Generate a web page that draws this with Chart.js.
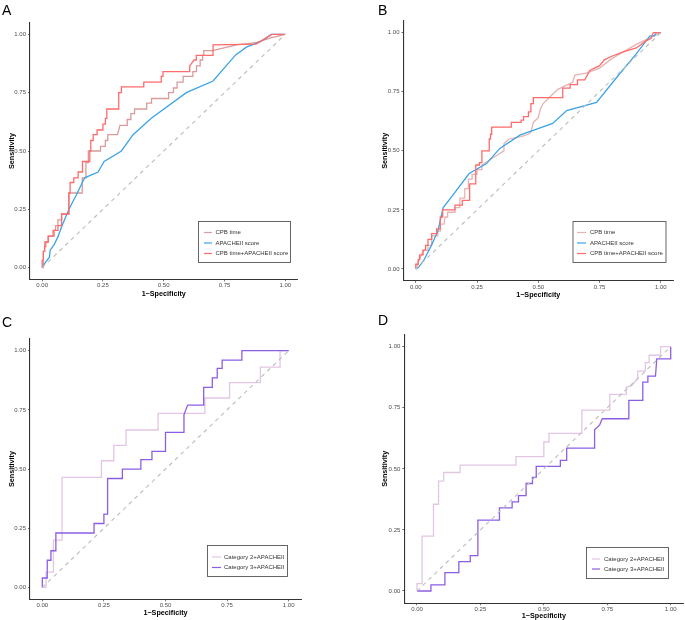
<!DOCTYPE html>
<html>
<head>
<meta charset="utf-8">
<script src="https://cdn.jsdelivr.net/npm/chart.js@4.4.1/dist/chart.umd.min.js"></script>
<style>
  body { margin: 0; background: #fff; }
  #wrap { position: relative; width: 685px; height: 620px; }
  canvas { position: absolute; }
</style>
</head>
<body>
<div id="wrap">
  <canvas id="cA" width="340" height="310" style="left:0;top:0"></canvas>
  <canvas id="cB" width="345" height="310" style="left:340px;top:0"></canvas>
  <canvas id="cC" width="340" height="310" style="left:0;top:310px"></canvas>
  <canvas id="cD" width="345" height="310" style="left:340px;top:310px"></canvas>
</div>
<script>
// tick values shared by every panel
const tickVals = [0, 0.25, 0.5, 0.75, 1];

// ROC curves, points are [1-specificity, sensitivity]
const rocA_cpb = [[0,0],[0.005,0],[0.005,0.07],[0.01,0.07],[0.01,0.11],[0.025,0.11],[0.025,0.135],[0.05,0.135],[0.05,0.16],[0.055,0.16],[0.055,0.18],[0.065,0.18],[0.065,0.205],[0.08,0.205],[0.08,0.23],[0.11,0.23],[0.11,0.32],[0.165,0.32],[0.165,0.385],[0.18,0.385],[0.18,0.45],[0.19,0.45],[0.19,0.5],[0.24,0.5],[0.24,0.52],[0.26,0.52],[0.26,0.545],[0.27,0.545],[0.27,0.57],[0.31,0.57],[0.32,0.61],[0.35,0.61],[0.35,0.635],[0.365,0.635],[0.365,0.66],[0.38,0.66],[0.38,0.68],[0.43,0.68],[0.43,0.705],[0.45,0.705],[0.45,0.725],[0.52,0.725],[0.52,0.75],[0.54,0.75],[0.54,0.77],[0.555,0.77],[0.555,0.795],[0.58,0.795],[0.58,0.82],[0.62,0.82],[0.62,0.84],[0.635,0.84],[0.635,0.865],[0.65,0.865],[0.65,0.89],[0.66,0.89],[0.66,0.91],[0.665,0.91],[0.665,0.93],[0.70,0.93],[0.80,0.955],[0.88,0.965],[0.94,0.985],[1,1]];
const rocA_apache = [[0,0],[0.005,0.01],[0.015,0.025],[0.03,0.045],[0.033,0.075],[0.05,0.1],[0.066,0.135],[0.08,0.175],[0.11,0.25],[0.14,0.31],[0.175,0.385],[0.23,0.41],[0.255,0.455],[0.326,0.5],[0.374,0.57],[0.449,0.64],[0.593,0.75],[0.703,0.8],[0.796,0.912],[0.84,0.945],[0.9,0.97],[0.942,1],[1,1]];
const rocA_both = [[0,0],[0,0.03],[0.005,0.03],[0.005,0.07],[0.01,0.07],[0.01,0.09],[0.015,0.09],[0.015,0.11],[0.025,0.11],[0.025,0.135],[0.045,0.135],[0.045,0.16],[0.065,0.16],[0.065,0.18],[0.08,0.18],[0.08,0.23],[0.11,0.23],[0.11,0.32],[0.115,0.32],[0.115,0.365],[0.13,0.365],[0.13,0.385],[0.148,0.385],[0.148,0.41],[0.166,0.41],[0.166,0.455],[0.196,0.455],[0.196,0.5],[0.2,0.5],[0.2,0.545],[0.21,0.545],[0.21,0.57],[0.226,0.57],[0.226,0.59],[0.25,0.59],[0.25,0.615],[0.26,0.615],[0.26,0.64],[0.266,0.64],[0.266,0.68],[0.315,0.68],[0.315,0.75],[0.326,0.75],[0.326,0.775],[0.418,0.775],[0.418,0.795],[0.49,0.795],[0.49,0.82],[0.497,0.82],[0.497,0.84],[0.607,0.84],[0.607,0.865],[0.625,0.89],[0.634,0.89],[0.634,0.91],[0.703,0.91],[0.703,0.955],[0.88,0.958],[0.945,1],[1,1]];

const rocB_cpb = [[0,0],[0.005,0.01],[0.01,0.03],[0.02,0.05],[0.03,0.08],[0.05,0.08],[0.05,0.1],[0.065,0.1],[0.065,0.14],[0.09,0.14],[0.09,0.16],[0.1,0.16],[0.1,0.19],[0.115,0.19],[0.12,0.22],[0.13,0.22],[0.13,0.24],[0.16,0.24],[0.16,0.26],[0.18,0.26],[0.18,0.3],[0.2,0.3],[0.2,0.34],[0.215,0.34],[0.215,0.38],[0.23,0.38],[0.23,0.4],[0.25,0.4],[0.25,0.42],[0.27,0.42],[0.27,0.44],[0.3,0.46],[0.33,0.48],[0.36,0.5],[0.36,0.53],[0.38,0.55],[0.43,0.56],[0.46,0.57],[0.47,0.58],[0.48,0.62],[0.5,0.64],[0.51,0.68],[0.52,0.7],[0.54,0.72],[0.56,0.74],[0.58,0.76],[0.62,0.78],[0.64,0.79],[0.65,0.82],[0.7,0.83],[0.75,0.85],[0.8,0.89],[0.9,0.95],[0.96,0.98],[1,1]];
const rocB_apache = [[0,0],[0.01,0.005],[0.033,0.037],[0.064,0.1],[0.09,0.16],[0.112,0.26],[0.15,0.31],[0.218,0.404],[0.289,0.446],[0.343,0.51],[0.425,0.566],[0.559,0.616],[0.616,0.67],[0.738,0.705],[0.834,0.828],[0.9,0.91],[0.956,0.986],[0.975,0.986],[0.98,1],[1,1]];
const rocB_both = [[0,0],[0,0.02],[0.01,0.02],[0.01,0.04],[0.016,0.04],[0.016,0.06],[0.03,0.06],[0.03,0.08],[0.04,0.08],[0.04,0.1],[0.05,0.1],[0.05,0.125],[0.065,0.125],[0.065,0.15],[0.085,0.15],[0.085,0.17],[0.1,0.17],[0.1,0.22],[0.11,0.22],[0.11,0.25],[0.16,0.25],[0.16,0.27],[0.19,0.27],[0.19,0.29],[0.22,0.29],[0.22,0.36],[0.245,0.36],[0.245,0.44],[0.26,0.44],[0.26,0.45],[0.27,0.45],[0.27,0.5],[0.3,0.5],[0.3,0.55],[0.305,0.55],[0.305,0.57],[0.31,0.57],[0.31,0.6],[0.39,0.6],[0.39,0.62],[0.43,0.62],[0.43,0.63],[0.44,0.63],[0.44,0.645],[0.46,0.645],[0.46,0.665],[0.47,0.665],[0.47,0.7],[0.48,0.7],[0.48,0.725],[0.6,0.725],[0.6,0.765],[0.63,0.765],[0.63,0.78],[0.66,0.78],[0.66,0.8],[0.69,0.8],[0.71,0.84],[0.75,0.86],[0.77,0.885],[0.8,0.9],[0.85,0.92],[0.9,0.935],[0.94,0.965],[0.96,0.975],[0.97,1],[1,1]];

const rocC_cat2 = [[0,0],[0.015,0],[0.015,0.065],[0.045,0.065],[0.045,0.2],[0.08,0.2],[0.08,0.465],[0.24,0.465],[0.24,0.535],[0.29,0.535],[0.29,0.6],[0.34,0.6],[0.34,0.665],[0.47,0.665],[0.47,0.735],[0.66,0.735],[0.66,0.8],[0.76,0.8],[0.76,0.865],[0.885,0.865],[0.885,0.93],[0.965,0.93],[0.965,1],[1,1]];
const rocC_cat3 = [[0,0],[0,0.04],[0.02,0.04],[0.02,0.115],[0.035,0.115],[0.035,0.155],[0.055,0.155],[0.055,0.23],[0.21,0.23],[0.21,0.27],[0.25,0.27],[0.25,0.31],[0.265,0.31],[0.265,0.46],[0.325,0.46],[0.325,0.5],[0.4,0.5],[0.4,0.54],[0.445,0.54],[0.445,0.575],[0.5,0.575],[0.5,0.655],[0.575,0.655],[0.575,0.73],[0.59,0.77],[0.655,0.77],[0.655,0.845],[0.69,0.845],[0.69,0.885],[0.71,0.885],[0.71,0.925],[0.73,0.925],[0.73,0.96],[0.81,0.96],[0.81,1],[1,1]];

const rocD_cat2 = [[0,0],[0,0.03],[0.02,0.03],[0.02,0.225],[0.065,0.225],[0.065,0.355],[0.085,0.355],[0.085,0.45],[0.105,0.45],[0.105,0.485],[0.17,0.485],[0.17,0.515],[0.39,0.515],[0.39,0.55],[0.5,0.55],[0.5,0.61],[0.52,0.61],[0.52,0.645],[0.65,0.645],[0.65,0.74],[0.76,0.74],[0.76,0.805],[0.825,0.805],[0.825,0.835],[0.845,0.84],[0.87,0.87],[0.87,0.9],[0.9,0.9],[0.9,0.935],[0.915,0.935],[0.915,0.965],[0.96,0.965],[0.96,1],[1,1]];
const rocD_cat3 = [[0,0],[0.055,0],[0.055,0.025],[0.11,0.025],[0.11,0.075],[0.165,0.075],[0.165,0.12],[0.21,0.12],[0.21,0.145],[0.24,0.145],[0.24,0.29],[0.325,0.29],[0.325,0.34],[0.375,0.34],[0.375,0.365],[0.4,0.365],[0.4,0.39],[0.43,0.39],[0.43,0.44],[0.455,0.44],[0.455,0.465],[0.47,0.465],[0.47,0.51],[0.565,0.51],[0.565,0.535],[0.59,0.535],[0.59,0.585],[0.7,0.585],[0.7,0.66],[0.72,0.68],[0.73,0.705],[0.835,0.705],[0.835,0.78],[0.89,0.78],[0.89,0.855],[0.91,0.855],[0.91,0.88],[0.94,0.88],[0.945,0.95],[1,0.95],[1,1]];

const diag = [[0,0],[1,1]];

const labelsAB = ['CPB time', 'APACHEII score', 'CPB time+APACHEII score'];
const labelsCD = ['Category 2+APACHEII', 'Category 3+APACHEII'];

const FONT = '"Liberation Sans", Arial, Helvetica, sans-serif';
const TITLE_LH = 7.2 * 1.2;

function toXY(arr) {
  return arr.map(p => ({ x: p[0], y: p[1] }));
}

// draws the boxed legend inside the panel and the panel letter
const decoPlugin = {
  id: 'deco',
  afterDraw(chart, args, o) {
    const ctx = chart.ctx;
    ctx.save();
    ctx.font = '14px ' + FONT;
    ctx.fillStyle = '#000';
    ctx.textBaseline = 'alphabetic';
    ctx.fillText(o.letter, o.lx, o.ly);

    const L = o.legend;
    ctx.fillStyle = '#fff';
    ctx.fillRect(L.x, L.y, L.w, L.h);
    ctx.strokeStyle = '#555';
    ctx.lineWidth = 0.9;
    ctx.strokeRect(L.x + 0.5, L.y + 0.5, L.w, L.h);
    ctx.font = '6px ' + FONT;
    ctx.textBaseline = 'middle';
    o.items.forEach((it, i) => {
      const y = L.rows[i];
      ctx.strokeStyle = it.color;
      ctx.lineWidth = 1.2;
      ctx.beginPath();
      ctx.moveTo(L.x0, y);
      ctx.lineTo(L.x1, y);
      ctx.stroke();
      ctx.fillStyle = '#333';
      ctx.fillText(it.label, L.tx, y);
    });
    ctx.restore();
  }
};

function makePanel(id, g, series, labels, letter) {
  const padLeft = g.yTitleX - 12;
  const datasets = [{
    data: toXY(diag),
    borderColor: '#c0c0c0',
    borderWidth: 1.2,
    borderDash: [4, 4],
    order: 0
  }];
  series.forEach((s, i) => {
    datasets.push({
      label: labels[i],
      data: toXY(s.data),
      borderColor: s.color,
      borderWidth: 1.3,
      order: series.length - i
    });
  });
  datasets.forEach(d => {
    d.showLine = true;
    d.pointRadius = 0;
    d.fill = false;
    d.tension = 0;
  });

  const axisCommon = (titleText) => ({
    type: 'linear',
    min: -0.05,
    max: 1.05,
    afterBuildTicks: s => { s.ticks = tickVals.map(v => ({ value: v })); },
    ticks: {
      font: { size: 6, family: FONT },
      color: '#4d4d4d',
      padding: 2,
      maxRotation: 0,
      callback: v => v.toFixed(2)
    },
    grid: { display: true, drawOnChartArea: false, drawTicks: true, tickLength: 2, color: '#444', lineWidth: 0.8 },
    border: { display: true, color: '#333', width: 1.1 },
    title: { display: true, text: titleText, color: '#000', font: { size: 7.2, weight: 'bold', family: FONT } }
  });

  const xAxis = axisCommon('1\u2212Specificity');
  xAxis.ticks.padding = 0.5;
  xAxis.title.padding = { top: 0, bottom: g.H - g.xTitleY - TITLE_LH / 2 };
  xAxis.afterFit = s => { s.height = g.H - g.b; };

  const yAxis = axisCommon('Sensitivity');
  yAxis.title.padding = { top: 12 - TITLE_LH / 2, bottom: 0 };
  yAxis.afterFit = s => { s.width = g.l - padLeft; };

  new Chart(document.getElementById(id), {
    type: 'scatter',
    data: { datasets: datasets },
    options: {
      responsive: false,
      animation: false,
      layout: { padding: { left: padLeft, top: g.t, right: g.W - g.r, bottom: 0 } },
      scales: { x: xAxis, y: yAxis },
      plugins: {
        legend: { display: false },
        tooltip: { enabled: false },
        deco: {
          letter: letter,
          lx: g.lx,
          ly: g.ly,
          legend: g.legend,
          items: series.map((s, i) => ({ label: labels[i], color: s.color }))
        }
      }
    },
    plugins: [decoPlugin]
  });
}

makePanel('cA', {
  W: 340, H: 310, l: 30, t: 22.7, r: 297.4, b: 279.3, yTitleX: 12, xTitleY: 293.8, lx: 2, ly: 15,
  legend: { x: 198, y: 221, w: 92, h: 41, rows: [232.5, 243, 253.5], x0: 204, x1: 212, tx: 215.5 }
}, [
  { data: rocA_cpb, color: '#d99b9b' },
  { data: rocA_apache, color: '#3ba4e6' },
  { data: rocA_both, color: '#ff6b6b' }
], labelsAB, 'A');

makePanel('cB', {
  W: 345, H: 310, l: 63.5, t: 20.8, r: 333, b: 280.8, yTitleX: 45, xTitleY: 295.3, lx: 38, ly: 15,
  legend: { x: 232.5, y: 221, w: 93, h: 41, rows: [232.5, 243, 253.5], x0: 237, x1: 246, tx: 250 }
}, [
  { data: rocB_cpb, color: '#e6b3b3' },
  { data: rocB_apache, color: '#3ba4e6' },
  { data: rocB_both, color: '#ff6b6b' }
], labelsAB, 'B');

makePanel('cC', {
  W: 340, H: 310, l: 30, t: 28.8, r: 301, b: 289.3, yTitleX: 12, xTitleY: 303.2, lx: 2, ly: 16.7,
  legend: { x: 207, y: 235, w: 80, h: 31, rows: [247, 257.5], x0: 212, x1: 221, tx: 224 }
}, [
  { data: rocC_cat2, color: '#e2c6e4' },
  { data: rocC_cat3, color: '#8b5ee3' }
], labelsCD, 'C');

makePanel('cD', {
  W: 345, H: 310, l: 64.3, t: 24.5, r: 343.4, b: 293.2, yTitleX: 45, xTitleY: 306, lx: 38, ly: 15,
  legend: { x: 246, y: 237, w: 82, h: 31, rows: [249, 259], x0: 252, x1: 260, tx: 264 }
}, [
  { data: rocD_cat2, color: '#e2c6e4' },
  { data: rocD_cat3, color: '#8b5ee3' }
], labelsCD, 'D');
</script>
</body>
</html>
